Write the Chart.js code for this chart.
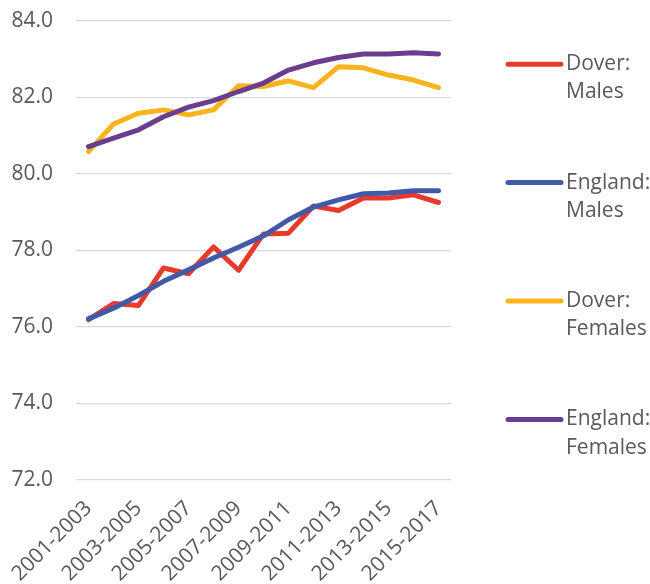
<!DOCTYPE html>
<html>
<head>
<meta charset="utf-8">
<script src="https://cdn.jsdelivr.net/npm/chart.js@4/dist/chart.umd.min.js"></script>
<style>
  html, body { margin: 0; padding: 0; background: #fff; }
  #wrap { width: 650px; height: 584px; position: relative; }
</style>
</head>
<body>
<div id="wrap"><canvas id="lifeChart"></canvas></div>
<script>
// Life expectancy at birth, three-year rolling periods
const periods = [
  '2001-2003', '2002-2004', '2003-2005', '2004-2006', '2005-2007',
  '2006-2008', '2007-2009', '2008-2010', '2009-2011', '2010-2012',
  '2011-2013', '2012-2014', '2013-2015', '2014-2016', '2015-2017'
];
const doverMales = [76.19, 76.61, 76.56, 77.54, 77.39, 78.09, 77.48, 78.43, 78.45, 79.16, 79.04, 79.37, 79.37, 79.45, 79.25];
const englandMales = [76.21, 76.49, 76.82, 77.19, 77.49, 77.80, 78.08, 78.38, 78.80, 79.13, 79.32, 79.48, 79.50, 79.56, 79.56];
const doverFemales = [80.58, 81.30, 81.58, 81.67, 81.54, 81.67, 82.30, 82.28, 82.43, 82.25, 82.80, 82.77, 82.58, 82.45, 82.25];
const englandFemales = [80.71, 80.93, 81.15, 81.49, 81.74, 81.91, 82.15, 82.37, 82.71, 82.90, 83.04, 83.13, 83.13, 83.16, 83.13];
const yTicks = [72, 74, 76, 78, 80, 82, 84];

const FONT = { family: "'Open Sans', 'Noto Sans', sans-serif", size: 21 };
const TEXT_COLOR = '#595959';

function series(label, data, color, order) {
  return {
    label, data, order,
    borderColor: color,
    backgroundColor: color,
    borderWidth: 5,
    borderCapStyle: 'round',
    borderJoinStyle: 'round',
    pointRadius: 0,
    pointHoverRadius: 0,
    tension: 0,
    fill: false
  };
}

// legend on the right: short line sample + two-line label
const sideLegend = {
  id: 'sideLegend',
  afterDraw(chart) {
    const ctx = chart.ctx;
    const area = chart.chartArea;
    ctx.save();
    ctx.font = `${FONT.size}px ${FONT.family}`;
    ctx.textBaseline = 'middle';
    ctx.textAlign = 'left';
    chart.data.datasets.forEach((ds, i) => {
      const y = area.top + 43.5 + i * 118.4;
      ctx.strokeStyle = ds.borderColor;
      ctx.lineWidth = 5;
      ctx.lineCap = 'round';
      ctx.beginPath();
      ctx.moveTo(508, y);
      ctx.lineTo(561, y);
      ctx.stroke();
      ctx.fillStyle = TEXT_COLOR;
      ds.label.forEach((line, j) => ctx.fillText(line, 566, y + j * 28.3));
    });
    ctx.restore();
  }
};

new Chart(document.getElementById('lifeChart'), {
  type: 'line',
  data: {
    labels: periods,
    datasets: [
      series(['Dover:', 'Males'], doverMales, '#E63A2B', 2),
      series(['England:', 'Males'], englandMales, '#4159A6', 1),
      series(['Dover:', 'Females'], doverFemales, '#F9B31C', 2),
      series(['England:', 'Females'], englandFemales, '#6A3D8E', 1)
    ]
  },
  options: {
    responsive: true,
    maintainAspectRatio: false,
    animation: false,
    layout: { padding: { top: 20.7, right: 199, left: 0, bottom: 0 } },
    plugins: { legend: { display: false }, tooltip: { enabled: false } },
    scales: {
      x: {
        offset: true,
        grid: { display: false, drawTicks: false },
        border: { display: false },
        ticks: {
          autoSkip: false,
          minRotation: 45,
          maxRotation: 45,
          padding: 16,
          color: TEXT_COLOR,
          font: FONT,
          callback: (v, i) => (i % 2 === 0 ? periods[i] : '')
        },
        afterFit: (scale) => {
          scale.height = 104;
          // rotated labels may run under the y labels; keep the plot edge fixed
          scale.paddingLeft = 0;
          scale.paddingRight = 0;
        }
      },
      y: {
        min: 72,
        max: 84,
        afterBuildTicks: (scale) => { scale.ticks = yTicks.map((value) => ({ value })); },
        // invisible tick marks give the gap between labels and gridlines
        grid: { color: '#d9d9d9', lineWidth: 1.3, drawTicks: true, tickLength: 23, tickColor: 'rgba(0,0,0,0)' },
        border: { display: false },
        ticks: {
          padding: 0,
          color: TEXT_COLOR,
          font: FONT,
          callback: (v) => v.toFixed(1)
        },
        afterFit: (scale) => { scale.width = 76; }
      }
    }
  },
  plugins: [sideLegend]
});
</script>
</body>
</html>
